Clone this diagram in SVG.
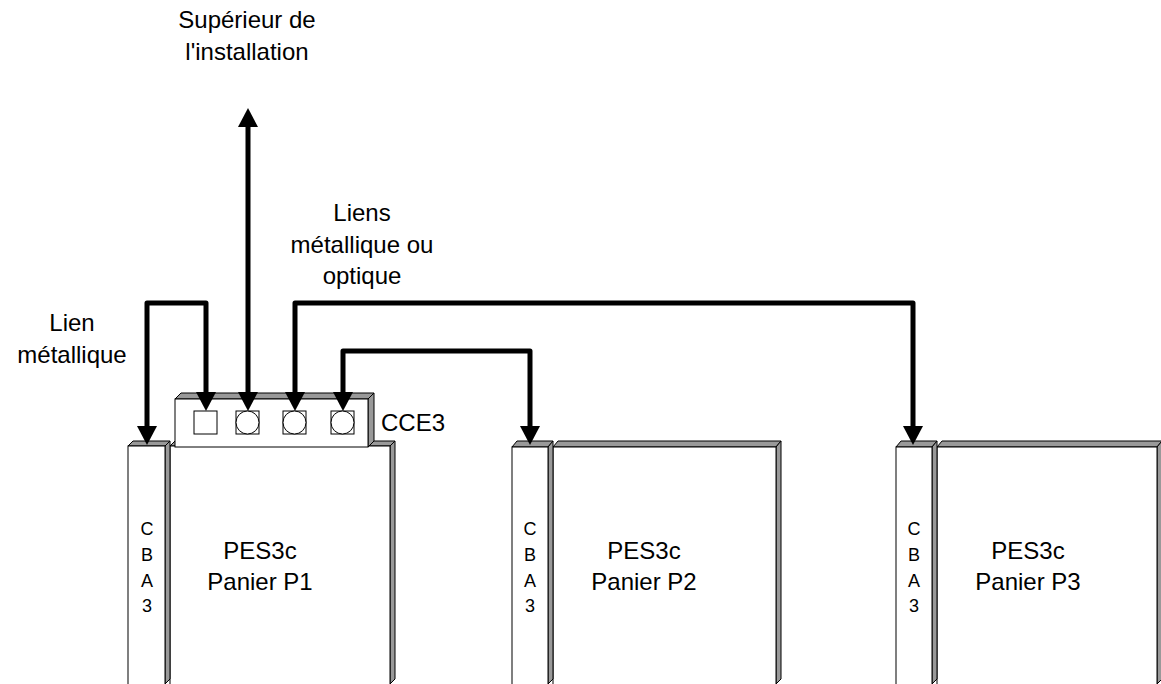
<svg xmlns="http://www.w3.org/2000/svg" width="1161" height="684" viewBox="0 0 1161 684">
<style>
.f{fill:#fff;stroke:#000;stroke-width:1}
.g{fill:#999;stroke:#000;stroke-width:1;stroke-linejoin:miter}
.t{font-family:"Liberation Sans",Arial,sans-serif;font-size:24px;fill:#000}
.s{font-family:"Liberation Sans",Arial,sans-serif;font-size:18px;fill:#000}
.c{fill:none;stroke:#000;stroke-width:5;stroke-linejoin:round}
</style>
<defs>
<marker id="ah" viewBox="0 0 19 20" markerWidth="19" markerHeight="20" refX="1" refY="10" orient="auto-start-reverse" markerUnits="userSpaceOnUse">
<path d="M0,0 L19,10 L0,20 z" fill="#000"/>
</marker>
</defs>
<rect width="1161" height="684" fill="#fff"/>

<g id="p1">
<polygon class="g" points="170,446 175,441 395,441 390,446"/>
<polygon class="g" points="390,446 395,441 395,679 390,684"/>
<rect class="f" x="170" y="446" width="220" height="240"/>
<text class="t" x="260" y="559" text-anchor="middle">PES3c</text>
<text class="t" x="260" y="590" text-anchor="middle">Panier P1</text>
</g>
<g id="cba1">
<polygon class="g" points="128,446 133,441 170,441 165,446"/>
<polygon class="g" points="165,446 170,441 170,679 165,684"/>
<rect class="f" x="128" y="446" width="37" height="240"/>
<text class="s" x="147" y="535" text-anchor="middle">C</text>
<text class="s" x="147" y="561" text-anchor="middle">B</text>
<text class="s" x="147" y="587" text-anchor="middle">A</text>
<text class="s" x="147" y="612" text-anchor="middle">3</text>
</g>
<g id="cce3">
<polygon class="g" points="175,399 181,393 374,393 368,399"/>
<polygon class="g" points="368,399 374,393 374,441 368,447"/>
<rect class="f" x="175" y="399" width="193" height="48"/>
<rect class="f" x="194" y="411" width="23" height="23"/>
<rect class="f" x="236" y="411" width="23" height="23"/>
<circle class="f" cx="247.5" cy="422.5" r="11.5"/>
<rect class="f" x="283" y="411" width="23" height="23"/>
<circle class="f" cx="294.5" cy="422.5" r="11.5"/>
<rect class="f" x="331" y="411" width="23" height="23"/>
<circle class="f" cx="342.5" cy="422.5" r="11.5"/>
<text class="t" x="381" y="431">CCE3</text>
</g>

<g id="p2">
<polygon class="g" points="553,447 558,441 781,441 776,447"/>
<polygon class="g" points="776,447 781,441 781,679 776,684"/>
<rect class="f" x="553" y="447" width="223" height="240"/>
<text class="t" x="644" y="559" text-anchor="middle">PES3c</text>
<text class="t" x="644" y="590" text-anchor="middle">Panier P2</text>
</g>
<g id="cba2">
<polygon class="g" points="512,447 517,441 553,441 548,447"/>
<polygon class="g" points="548,447 553,441 553,679 548,684"/>
<rect class="f" x="512" y="447" width="36" height="240"/>
<text class="s" x="530" y="535" text-anchor="middle">C</text>
<text class="s" x="530" y="561" text-anchor="middle">B</text>
<text class="s" x="530" y="587" text-anchor="middle">A</text>
<text class="s" x="530" y="612" text-anchor="middle">3</text>
</g>

<g id="p3">
<polygon class="g" points="937,447 942,441 1162,441 1157,447"/>
<polygon class="g" points="1157,447 1162,441 1162,679 1157,684"/>
<rect class="f" x="937" y="447" width="220" height="240"/>
<text class="t" x="1028" y="559" text-anchor="middle">PES3c</text>
<text class="t" x="1028" y="590" text-anchor="middle">Panier P3</text>
</g>
<g id="cba3">
<polygon class="g" points="896,447 901,441 937,441 932,447"/>
<polygon class="g" points="932,447 937,441 937,679 932,684"/>
<rect class="f" x="896" y="447" width="36" height="240"/>
<text class="s" x="914" y="535" text-anchor="middle">C</text>
<text class="s" x="914" y="561" text-anchor="middle">B</text>
<text class="s" x="914" y="587" text-anchor="middle">A</text>
<text class="s" x="914" y="612" text-anchor="middle">3</text>
</g>

<g id="connectors">
<path class="c" d="M206,393 V303 H147 V427" marker-start="url(#ah)" marker-end="url(#ah)"/>
<path class="c" d="M248,393 V126" marker-start="url(#ah)" marker-end="url(#ah)"/>
<path class="c" d="M295,393 V303 H913 V427" marker-start="url(#ah)" marker-end="url(#ah)"/>
<path class="c" d="M343,393 V351 H530 V427" marker-start="url(#ah)" marker-end="url(#ah)"/>
</g>

<g id="labels">
<text class="t" x="247" y="28" text-anchor="middle">Supérieur de</text>
<text class="t" x="247" y="60" text-anchor="middle">l'installation</text>
<text class="t" x="362" y="221" text-anchor="middle">Liens</text>
<text class="t" x="362" y="253" text-anchor="middle">métallique ou</text>
<text class="t" x="362" y="284" text-anchor="middle">optique</text>
<text class="t" x="72" y="331" text-anchor="middle">Lien</text>
<text class="t" x="72" y="363" text-anchor="middle">métallique</text>
</g>
</svg>
